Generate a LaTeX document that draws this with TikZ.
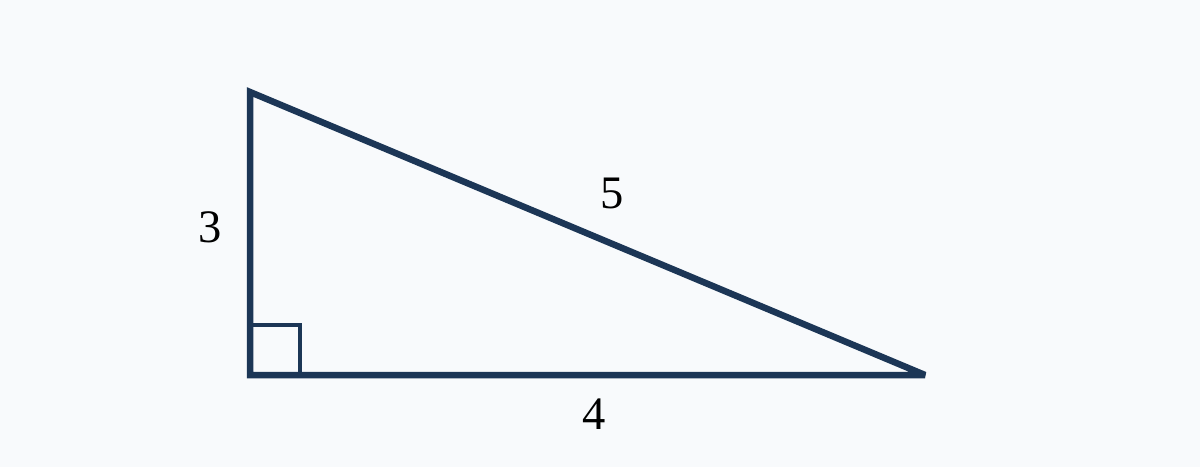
\documentclass[tikz,border=0pt]{standalone}
\usepackage{fontspec}
\setmainfont{Liberation Serif}
\definecolor{bgpaper}{HTML}{F8FAFC}
\definecolor{sideline}{HTML}{1C3656}
\tikzset{
  side/.style = {draw=sideline, line width=3.7pt, miter limit=4},
  rightmark/.style = {draw=sideline, line width=2.5pt},
  sidelabel/.style = {text=black, font=\fontsize{26.5}{30}\selectfont, inner sep=0pt}
}

\begin{document}
\begin{tikzpicture}[x=0.02cm, y=-0.02cm]
    \fill[bgpaper] (0,0) rectangle (1200,467);
    \useasboundingbox (0,0) rectangle (1200,467);

    \coordinate (top)    at (250,92);
    \coordinate (corner) at (250,375);
    \coordinate (tip)    at (925,375);

    % right angle mark
    \draw[rightmark] ([yshift=1cm]corner) -| ([xshift=1cm]corner);

    \draw[side] (top) -- (corner) -- (tip) -- cycle;

    \node[sidelabel] (legA) at (210,227) {3};
    \node[sidelabel] (legB) at (594,414) {4};
    \node[sidelabel] (hyp)  at (612,193) {5};
\end{tikzpicture}
\end{document}
